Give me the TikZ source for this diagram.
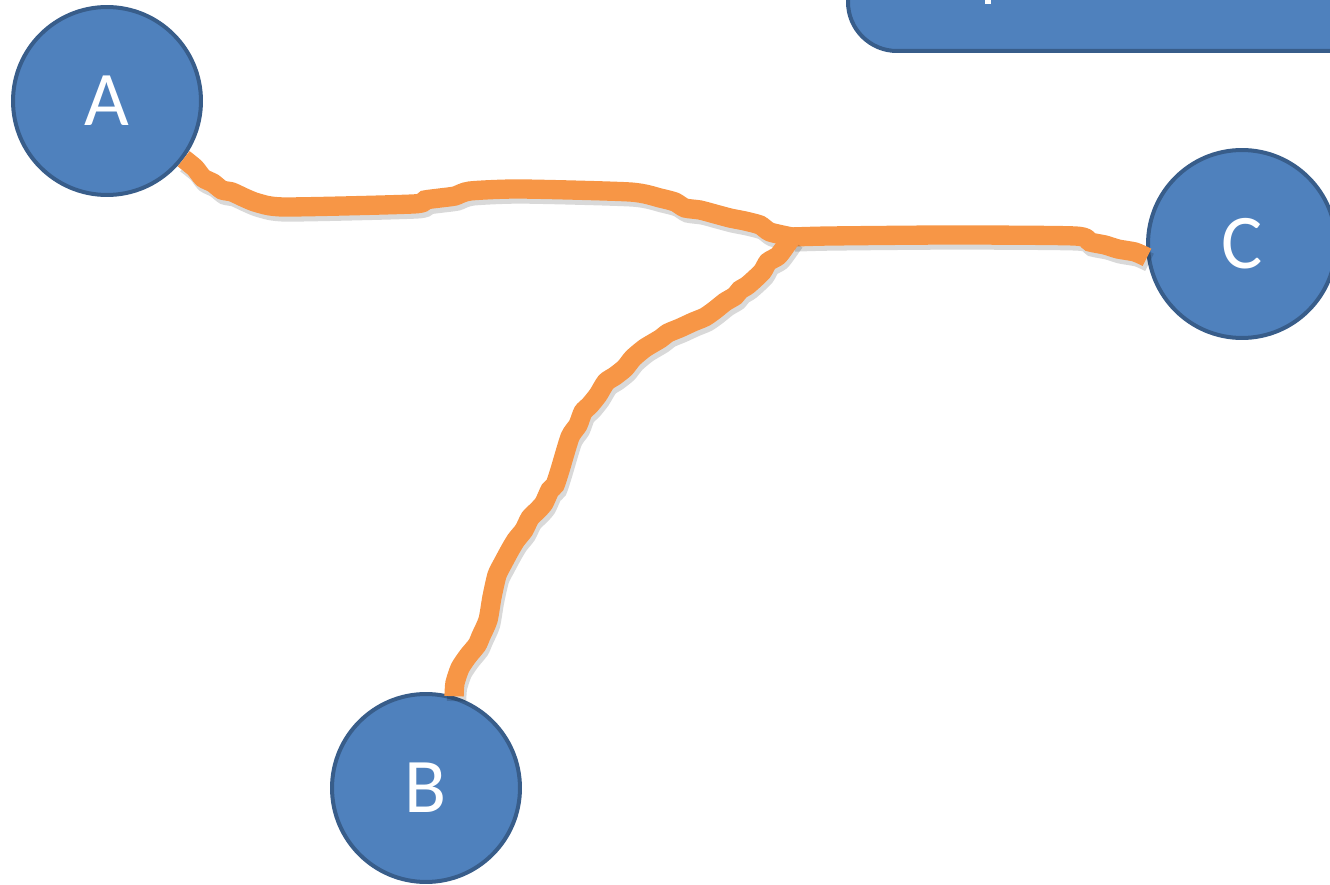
\documentclass[tikz,border=0pt]{standalone}
\usepackage{fontspec}
\setmainfont{Carlito}
\definecolor{sitefill}{HTML}{4F81BD}
\definecolor{siteline}{HTML}{385D8A}
\definecolor{wireorange}{HTML}{F79646}

\begin{document}
\begin{tikzpicture}[
  x=0.02cm, y=-0.02cm,
  site/.style={circle, fill=sitefill, draw=siteline, line width=0.08cm,
    minimum size=3.76cm, inner sep=0pt, text=white,
    font=\fontsize{44}{50}\selectfont},
  wire/.style={draw=wireorange, line width=11pt,
    preaction={draw=black, opacity=0.15, line width=11pt,
      transform canvas={shift={(0.05cm,-0.1cm)}}}},
]

\useasboundingbox (0,0) rectangle (1330,885);
\clip (0,0) rectangle (1330,885);

\draw [fill=sitefill, draw=siteline, line width=0.08cm, rounded corners=0.98cm]
  (848,-80) rectangle (1420,51);
\fill [white] (985,0) rectangle (991,4);

\node [site] (A) at (107,101) {A};
\node [site] (B) at (426,788) {B};
\node [site] (C) at (1242,244) {C};

\coordinate (J) at (792,237);

\path [wire] plot [smooth, tension=0.4] coordinates {(A.-37) (195,168) (203,178)
  (213,183) (222,190) (232,192) (245,198) (258,203) (285,207) (413,204)
  (425,200) (440,198) (455,196) (470,191) (520,189) (630,192) (660,198)
  (675,202) (685,208) (700,210) (715,214) (730,218) (745,221) (760,225)
  (770,232) (J)};
\path [wire] plot [smooth, tension=0.4] coordinates {(J) (830,236) (950,235)
  (1075,236) (1090,242) (1105,245) (1118,249) (1135,252) (C.188)};
\path [wire] plot [smooth, tension=0.4] coordinates {(J) (785,247) (778,256)
  (768,262) (762,272) (748,285) (740,290) (735,296) (725,302) (715,310)
  (705,317) (693,322) (680,328) (668,333) (660,339) (645,348) (633,358)
  (625,368) (615,376) (606,382) (598,395) (590,405) (583,412) (578,425)
  (570,437) (560,470) (555,485) (550,490) (544,503) (538,510) (530,518)
  (524,530) (516,540) (510,550) (503,563) (497,575) (492,597) (488,620)
  (481,636) (477,645) (468,656) (460,668) (455,683) (B.73)};

\end{tikzpicture}
\end{document}
